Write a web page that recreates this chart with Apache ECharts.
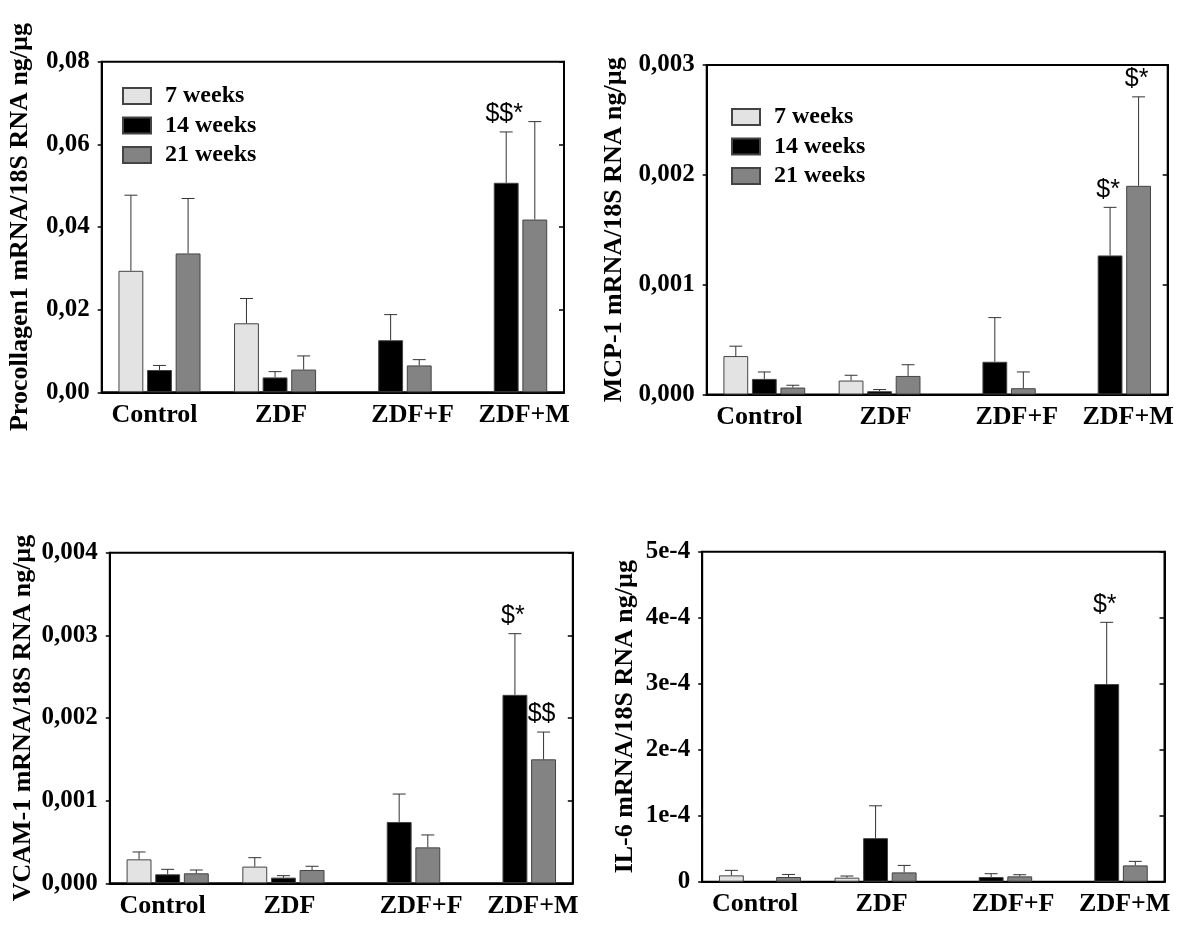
<!DOCTYPE html>
<html><head><meta charset="utf-8">
<script src="https://cdn.jsdelivr.net/npm/echarts@6/dist/echarts.min.js"></script>
<style>html,body{margin:0;padding:0;background:#fff}#c{width:1200px;height:937px}</style>
</head><body><div id="c"></div>
<script>
// ---------- data ----------
const categories = ['Control', 'ZDF', 'ZDF+F', 'ZDF+M'];
const weekNames = ['7 weeks', '14 weeks', '21 weeks'];

// Procollagen1
const procol7  = [0.0294, 0.0167, null, null];
const procol14 = [0.0054, 0.0036, 0.0126, 0.0507];
const procol21 = [0.0336, 0.0055, 0.0065, 0.0418];
const procol7Sem  = [0.0183, 0.0060, null, null];
const procol14Sem = [0.0011, 0.0014, 0.0062, 0.0123];
const procol21Sem = [0.0133, 0.0033, 0.0014, 0.0237];
const procolTicks = ['0,00', '0,02', '0,04', '0,06', '0,08'];
const procolMarks = [{cat: 3, week: 1, text: '$$*'}];

// MCP-1
const mcp7  = [0.000350, 0.000127, null, null];
const mcp14 = [0.000142, 0.000030, 0.000298, 0.001266];
const mcp21 = [0.0000633, 0.000169, 0.0000573, 0.00190];
const mcp7Sem  = [0.000090, 0.000048, null, null];
const mcp14Sem = [0.000063, 0.000015, 0.000402, 0.000438];
const mcp21Sem = [0.000021, 0.000102, 0.000148, 0.000810];
const mcpTicks = ['0,000', '0,001', '0,002', '0,003'];
const mcpMarks = [{cat: 3, week: 1, text: '$*'}, {cat: 3, week: 2, text: '$*'}];

// VCAM-1
const vcam7  = [0.000290, 0.000202, null, null];
const vcam14 = [0.000109, 0.0000685, 0.000742, 0.00228];
const vcam21 = [0.000121, 0.000161, 0.000435, 0.00150];
const vcam7Sem  = [0.000089, 0.000108, null, null];
const vcam14Sem = [0.000060, 0.000024, 0.000338, 0.000740];
const vcam21Sem = [0.000040, 0.000045, 0.000150, 0.000330];
const vcamTicks = ['0,000', '0,001', '0,002', '0,003', '0,004'];
const vcamMarks = [{cat: 3, week: 1, text: '$*'}, {cat: 3, week: 2, text: '$$'}];

// IL-6
const il7  = [0.0000096, 0.0000061, null, null];
const il14 = [null, 0.000066, 0.0000071, 0.0002995];
const il21 = [0.0000071, 0.0000141, 0.0000081, 0.0000247];
const il7Sem  = [0.0000076, 0.0000025, null, null];
const il14Sem = [null, 0.000049, 0.0000050, 0.0000935];
const il21Sem = [0.0000039, 0.0000106, 0.0000025, 0.0000061];
const ilTicks = ['0', '1e-4', '2e-4', '3e-4', '4e-4', '5e-4'];
const ilMarks = [{cat: 3, week: 1, text: '$*'}];

// ---------- layout / style ----------
const COLORS = ['#e3e3e3', '#000000', '#838383'];
const CAT_GAP = 0.29, BAR_GAP = 0.15;
const SERIF = '"Liberation Serif", "Times New Roman", serif';
const SANS = '"Liberation Sans", Arial, sans-serif';

const panels = [
  {title: 'Procollagen1 mRNA/18S RNA ng/µg', vals: [procol7, procol14, procol21], sems: [procol7Sem, procol14Sem, procol21Sem],
   ticks: procolTicks, max: 0.08, interval: 0.02, marks: procolMarks, legend: true,
   grid: {left: 101.7, top: 61.7, width: 462.3, height: 330.6}, nameGap: 68, legendPos: {left: 117, top: 79}},
  {title: 'MCP-1 mRNA/18S RNA ng/µg', vals: [mcp7, mcp14, mcp21], sems: [mcp7Sem, mcp14Sem, mcp21Sem],
   ticks: mcpTicks, max: 0.003, interval: 0.001, marks: mcpMarks, legend: true,
   grid: {left: 706.7, top: 65, width: 461, height: 329.5}, nameGap: 79, legendPos: {left: 726, top: 100}},
  {title: 'VCAM-1 mRNA/18S RNA ng/µg', vals: [vcam7, vcam14, vcam21], sems: [vcam7Sem, vcam14Sem, vcam21Sem],
   ticks: vcamTicks, max: 0.004, interval: 0.001, marks: vcamMarks, legend: false,
   grid: {left: 109.8, top: 552.7, width: 463, height: 330.6}, nameGap: 74},
  {title: 'IL-6 mRNA/18S RNA ng/µg', vals: [il7, il14, il21], sems: [il7Sem, il14Sem, il21Sem],
   ticks: ilTicks, max: 0.0005, interval: 0.0001, marks: ilMarks, legend: false,
   grid: {left: 702.2, top: 551.7, width: 462.3, height: 330}, nameGap: 64}
];

const labelRich = {
  c0: {padding: [0, 10, 0, 0]},
  c1: {padding: [0, 0, 0, 12]},
  c2: {padding: [0, 0, 0, 44]},
  c3: {padding: [0, 0, 0, 36]}
};
Object.keys(labelRich).forEach(k => Object.assign(labelRich[k], {fontFamily: SERIF, fontWeight: 'bold', fontSize: 26, color: '#000'}));

function barOffset(api, k) {
  const band = api.size([1, 0])[0];
  const bw = band * (1 - CAT_GAP) / (3 + 2 * BAR_GAP);
  return {off: (k - 1) * bw * (1 + BAR_GAP), bw: bw};
}

function errRender(params, api) {
  const i = api.value(0), mean = api.value(1), hi = api.value(2), k = api.value(3);
  const o = barOffset(api, k);
  const p0 = api.coord([i, mean]), p1 = api.coord([i, hi]);
  const x = p0[0] + o.off, cap = o.bw * 0.26;
  return {type: 'group', children: [
    {type: 'line', shape: {x1: x, y1: p0[1], x2: x, y2: p1[1]}, style: {stroke: '#333', lineWidth: 1}},
    {type: 'line', shape: {x1: x - cap, y1: p1[1], x2: x + cap, y2: p1[1]}, style: {stroke: '#333', lineWidth: 1}}
  ]};
}

function markRenderFactory(marks) {
  return function (params, api) {
    const i = api.value(0), hi = api.value(1), k = api.value(2);
    const o = barOffset(api, k);
    const p = api.coord([i, hi]);
    return {type: 'text', x: p[0] + o.off - 2, y: p[1] - 5,
      style: {text: marks[params.dataIndex].text, fill: '#000', font: '25px ' + SANS, align: 'center', verticalAlign: 'bottom'}};
  };
}

const option = {
  backgroundColor: '#fff',
  animation: false,
  grid: [], xAxis: [], yAxis: [], series: [], legend: []
};

panels.forEach((p, g) => {
  option.grid.push(Object.assign({show: true, borderColor: '#000', borderWidth: 2, backgroundColor: 'transparent'}, p.grid));
  option.xAxis.push({
    type: 'category', gridIndex: g, data: categories,
    axisLine: {lineStyle: {color: '#000', width: 2}},
    axisTick: {show: false},
    axisLabel: {margin: 10, interval: 0, formatter: (v, idx) => '{c' + idx + '|' + v + '}', rich: labelRich,
      fontFamily: SERIF, fontWeight: 'bold', fontSize: 26, color: '#000'}
  });
  const tickFmt = (v) => p.ticks[Math.round(v / p.interval)] || '';
  option.yAxis.push({
    type: 'value', gridIndex: g, min: 0, max: p.max, interval: p.interval,
    name: p.title, nameLocation: 'middle', nameGap: p.nameGap, nameRotate: 90,
    nameTextStyle: {fontFamily: SERIF, fontWeight: 'bold', fontSize: 26, color: '#000'},
    axisLine: {show: true, lineStyle: {color: '#000', width: 2}},
    axisTick: {show: true, inside: false, length: 4, lineStyle: {color: '#000', width: 1.5}},
    splitLine: {show: false},
    axisLabel: {margin: 12, formatter: tickFmt, fontFamily: SERIF, fontWeight: 'bold', fontSize: 25, color: '#000'}
  });
  option.yAxis.push({
    type: 'value', gridIndex: g, min: 0, max: p.max, interval: p.interval, position: 'right',
    axisLine: {show: true, lineStyle: {color: '#000', width: 2}},
    axisTick: {show: true, inside: true, length: 5, lineStyle: {color: '#000', width: 1.5}},
    splitLine: {show: false}, axisLabel: {show: false}
  });
  weekNames.forEach((name, k) => {
    option.series.push({
      type: 'bar', name: name, xAxisIndex: g, yAxisIndex: 2 * g, data: p.vals[k],
      barCategoryGap: (CAT_GAP * 100) + '%', barGap: (BAR_GAP * 100) + '%',
      itemStyle: {color: COLORS[k], borderColor: '#444', borderWidth: 1},
      emphasis: {disabled: true}
    });
  });
  const errData = [];
  p.vals.forEach((arr, k) => arr.forEach((v, i) => {
    if (v !== null && p.sems[k][i] !== null) errData.push([i, v, v + p.sems[k][i], k]);
  }));
  option.series.push({type: 'custom', xAxisIndex: g, yAxisIndex: 2 * g, renderItem: errRender, data: errData, z: 3, silent: true});
  const markData = p.marks.map(m => [m.cat, p.vals[m.week][m.cat] + p.sems[m.week][m.cat], m.week]);
  option.series.push({type: 'custom', xAxisIndex: g, yAxisIndex: 2 * g, renderItem: markRenderFactory(p.marks), data: markData, z: 4, silent: true, clip: false});
  if (p.legend) {
    option.legend.push(Object.assign({
      orient: 'vertical', data: weekNames, icon: 'rect', itemWidth: 28, itemHeight: 16, itemGap: 5.5,
      selectedMode: false,
      textStyle: {fontFamily: SERIF, fontWeight: 'bold', fontSize: 24, color: '#000', padding: [0, 0, 0, 9]}
    }, p.legendPos));
  }
});

const chart = echarts.init(document.getElementById('c'));
chart.setOption(option);
</script>
</body></html>
